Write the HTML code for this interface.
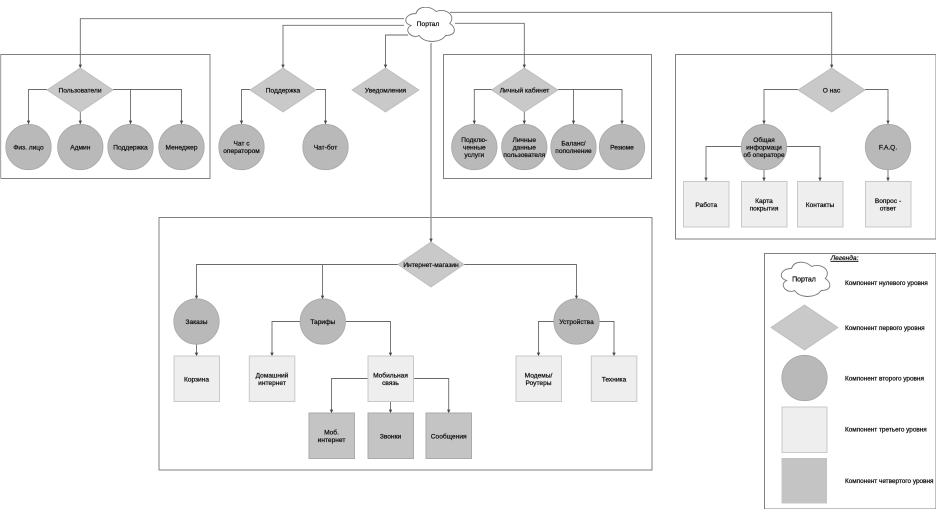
<!DOCTYPE html>
<html><head><meta charset="utf-8"><style>
html,body{margin:0;padding:0;background:#fff;width:942px;height:516px;overflow:hidden}
svg{display:block}
text{font-family:"Liberation Sans","DejaVu Sans",sans-serif;font-size:6.6px;fill:#111;text-anchor:middle;stroke:#111;stroke-width:.24}
.lg{text-anchor:start;font-size:6.4px}
.b{fill:none;stroke:#808080;stroke-width:1}
.l{fill:none;stroke:#6a6a6a;stroke-width:.9;marker-end:url(#a)}
.d{fill:#c9c9c9;stroke:#bbb;stroke-width:.8}
.c{fill:#b9b9b9;stroke:#a8a8a8;stroke-width:.8}
.s3{fill:#eeeeee;stroke:#c8c8c8;stroke-width:1}
.s4{fill:#c4c4c4;stroke:#aaa;stroke-width:1}
.cl{fill:#fff;stroke:#777;stroke-width:.9}
</style></head><body>
<svg width="942" height="516" viewBox="0 0 942 516" xmlns="http://www.w3.org/2000/svg">
<defs>
<marker id="a" markerWidth="4" markerHeight="4" refX="3.4" refY="2" orient="auto" markerUnits="userSpaceOnUse"><path d="M0 0.3L3.5 2L0 3.7Z" fill="#444"/></marker>
<filter id="f" x="0" y="0" width="100%" height="100%"><feGaussianBlur stdDeviation="0.35"/></filter>
<path id="cloud" d="M13.5 10 C2 10 0 20 8.6 22 C0 26.4 9.7 36 16.7 32 C21.6 40 37.8 40 43.2 32 C54 32 54 24 47.2 20 C54 12 43.2 4 33.7 8 C27 2 16 2 13.5 10 Z"/>
</defs>
<g filter="url(#f)">
<rect class="b" x="0.5" y="54.5" width="209.5" height="124"/>
<path d="M0.5 54V178" stroke="#555" stroke-width="1.2" fill="none"/>
<rect class="b" x="443.5" y="54.5" width="208" height="124"/>
<rect class="b" x="675.5" y="54.5" width="260.5" height="184.5"/>
<rect class="b" x="159" y="217.5" width="493" height="252.5"/>
<rect class="b" x="764.5" y="253.5" width="171.5" height="255.5"/>

<path class="l" d="M404 18.7H80.3V68"/>
<path class="l" d="M404 25.3H283V68"/>
<path class="l" d="M408 35H385.5V68"/>
<path class="l" d="M455 23.3H524.3V68"/>
<path class="l" d="M450 12.3H831.7V68"/>
<path class="l" d="M431 43V242" style="stroke:#999;stroke-width:1.4"/>

<path class="l" d="M47 89.5H28.5V124"/>
<path class="l" d="M80.3 111V124"/>
<path class="l" d="M113 89.5H181.5V124"/>
<path class="l" d="M130.5 89.5V124"/>
<path class="l" d="M250 89.5H241.5V124"/>
<path class="l" d="M316 89.5H325.5V124"/>
<path class="l" d="M492 89.5H474.3V124"/>
<path class="l" d="M524.3 111V124"/>
<path class="l" d="M558 89.5H622V124"/>
<path class="l" d="M573.5 89.5V124"/>
<path class="l" d="M798 89.5H764V124"/>
<path class="l" d="M865 89.5H888V124"/>
<path class="l" d="M741 146.5H706V181"/>
<path class="l" d="M764 170V181"/>
<path class="l" d="M787 146.5H820V181"/>
<path class="l" d="M888 170V181"/>
<path class="l" d="M398 264.5H196.5V299"/>
<path class="l" d="M322.5 264.5V299"/>
<path class="l" d="M464 264.5H576.5V299"/>
<path class="l" d="M196.5 344V356"/>
<path class="l" d="M300 321.5H272V356"/>
<path class="l" d="M346 321.5H390.5V356"/>
<path class="l" d="M554 321.5H538.5V356"/>
<path class="l" d="M599 321.5H614V356"/>
<path class="l" d="M368 378.5H331.5V413"/>
<path class="l" d="M390.5 401V413"/>
<path class="l" d="M413 378.5H448.7V413"/>

<use href="#cloud" class="cl" transform="translate(402.5,3.5)"/>
<text x="428" y="26">Портал</text>

<polygon class="d" points="47,90 80.3,68 113,90 80.3,112"/>
<text x="80" y="92.5">Пользователи</text>
<polygon class="d" points="250,90 283,68 316,90 283,112"/>
<text x="283" y="92.5">Поддержка</text>
<polygon class="d" points="352,90 385.5,68 419,90 385.5,112"/>
<text x="385.5" y="92.5">Уведомления</text>
<polygon class="d" points="491.5,90 524.3,68 558,90 524.3,112"/>
<text x="524.5" y="92.5">Личный кабинет</text>
<polygon class="d" points="798,90 831.7,68 865,90 831.7,112"/>
<text x="831.5" y="92.5">О нас</text>
<polygon class="d" points="398,264.5 431,242 464,264.5 431,287"/>
<text x="431" y="267">Интернет-магазин</text>

<circle class="c" cx="28.5" cy="147" r="22.7"/><text x="28.5" y="149.5">Физ. лицо</text>
<circle class="c" cx="80.3" cy="147" r="22.7"/><text x="80.3" y="149.5">Админ</text>
<circle class="c" cx="130.5" cy="147" r="22.7"/><text x="130.5" y="149.5">Поддержка</text>
<circle class="c" cx="181.5" cy="147" r="22.7"/><text x="181.5" y="149.5">Менеджер</text>
<circle class="c" cx="241.5" cy="147" r="22.7"/><text x="241.5" y="145.5">Чат с</text><text x="241.5" y="153">оператором</text>
<circle class="c" cx="325.5" cy="147" r="22.7"/><text x="325.5" y="149.5">Чат-бот</text>
<circle class="c" cx="474.3" cy="147" r="22.7"/><text x="474.3" y="142">Подклю-</text><text x="474.3" y="149.5">ченные</text><text x="474.3" y="157">услуги</text>
<circle class="c" cx="524.3" cy="147" r="22.7"/><text x="524.3" y="142">Личные</text><text x="524.3" y="149.5">данные</text><text x="524.3" y="157">пользователя</text>
<circle class="c" cx="573.5" cy="147" r="22.7"/><text x="573.5" y="145.5">Баланс/</text><text x="573.5" y="153">пополнение</text>
<circle class="c" cx="622" cy="147" r="22.7"/><text x="622" y="149.5">Резюме</text>
<circle class="c" cx="764" cy="147" r="22.7"/><text x="764" y="142">Общая</text><text x="764" y="149.5">информаци</text><text x="764" y="157">об операторе</text>
<circle class="c" cx="888" cy="147" r="22.7"/><text x="888" y="149.5">F.A.Q.</text>
<rect class="s3" x="683.5" y="181.5" width="45.5" height="45.5"/><text x="706.3" y="207">Работа</text>
<rect class="s3" x="741.5" y="181.5" width="45.5" height="45.5"/><text x="764" y="203">Карта</text><text x="764" y="210.5">покрытия</text>
<rect class="s3" x="797.5" y="181.5" width="45.5" height="45.5"/><text x="820" y="207">Контакты</text>
<rect class="s3" x="865.5" y="181.5" width="45.5" height="45.5"/><text x="888" y="203">Вопрос -</text><text x="888" y="210.5">ответ</text>
<circle class="c" cx="196.5" cy="321.5" r="22.7"/><text x="196.5" y="324">Заказы</text>
<circle class="c" cx="322.8" cy="321.5" r="22.7"/><text x="322.8" y="324">Тарифы</text>
<circle class="c" cx="576.5" cy="321.5" r="22.7"/><text x="576.5" y="324">Устройства</text>
<rect class="s3" x="174" y="356" width="45.5" height="45.5"/><text x="196.5" y="381.5">Корзина</text>
<rect class="s3" x="249.3" y="356" width="45.5" height="45.5"/><text x="272" y="377.5">Домашний</text><text x="272" y="385">интернет</text>
<rect class="s3" x="368" y="356" width="45.5" height="45.5"/><text x="390.5" y="377.5">Мобильная</text><text x="390.5" y="385">связь</text>
<rect class="s3" x="516" y="356" width="45.5" height="45.5"/><text x="538.5" y="377.5">Модемы/</text><text x="538.5" y="385">Роутеры</text>
<rect class="s3" x="591.3" y="356" width="45.5" height="45.5"/><text x="614" y="381.5">Техника</text>
<rect class="s4" x="309" y="413" width="45.5" height="45.5"/><text x="331.5" y="434.5">Моб.</text><text x="331.5" y="442">интернет</text>
<rect class="s4" x="368" y="413" width="45.5" height="45.5"/><text x="390.5" y="438.5">Звонки</text>
<rect class="s4" x="426" y="413" width="45.5" height="45.5"/><text x="448.7" y="438.5">Сообщения</text>

<text x="844.5" y="260" style="font-style:italic;text-decoration:underline">Легенда:</text>
<use href="#cloud" class="cl" transform="translate(778,258.5)"/>
<text x="804" y="281.5" style="font-size:7px">Портал</text>
<text class="lg" x="845" y="285">Компонент нулевого уровня</text>
<polygon class="d" points="771,327.5 804.5,305 838,327.5 804.5,350"/>
<text class="lg" x="845" y="330">Компонент первого уровня</text>
<circle class="c" cx="804.5" cy="378" r="22.7"/>
<text class="lg" x="845" y="380.5">Компонент второго уровня</text>
<rect class="s3" x="782" y="407" width="45" height="45.5"/>
<text class="lg" x="845" y="431.5">Компонент третьего уровня</text>
<rect x="781.5" y="458" width="45.5" height="45.5" fill="#c4c4c4"/>
<text class="lg" x="845" y="483">Компонент четвертого уровня</text>
</g>
</svg>
</body></html>
